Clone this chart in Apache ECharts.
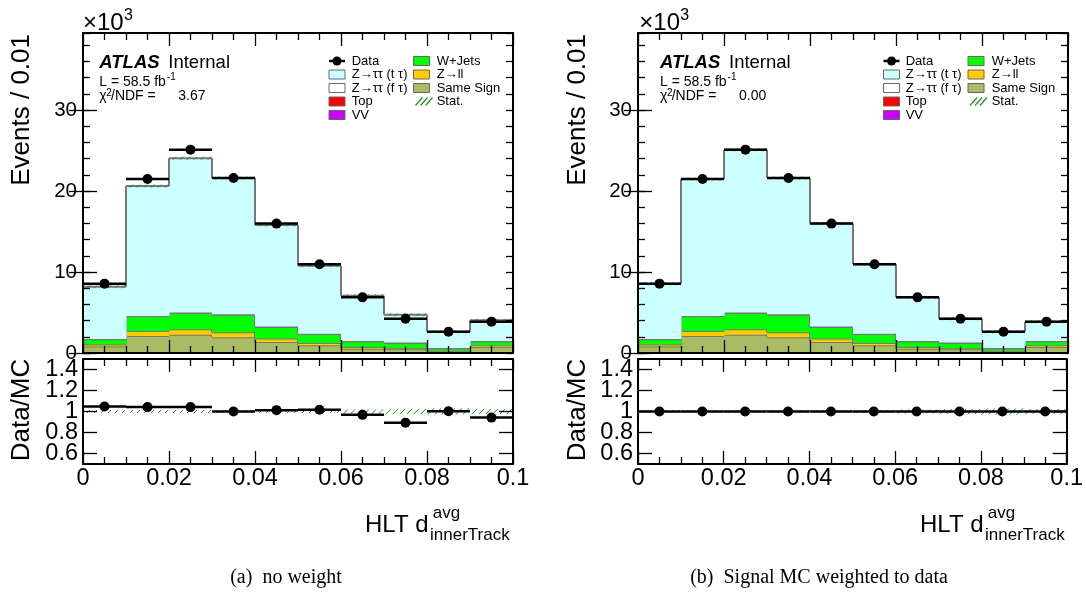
<!DOCTYPE html>
<html><head><meta charset="utf-8">
<script src="https://cdn.jsdelivr.net/npm/echarts@6/dist/echarts.min.js"></script>
<style>html,body{margin:0;padding:0;background:#fff}#c{width:1086px;height:597px}</style>
</head><body><div id="c"></div>
<script>
// ---- data (events in units of 10^3) ----
const binEdges = [0, 0.01, 0.02, 0.03, 0.04, 0.05, 0.06, 0.07, 0.08, 0.09, 0.1];
const yMainTicks = [0, 10, 20, 30];
const yRatioTicks = [0.6, 0.8, 1, 1.2, 1.4];
const dataEvents = [8.56, 21.48, 25.1, 21.6, 15.97, 10.95, 6.87, 4.22, 2.62, 3.87];
const sameSign  = [0.80, 2.11, 2.24, 1.95, 1.37, 0.95, 0.54, 0.46, 0.20, 0.75];
const zToLL     = [0.25, 0.62, 0.70, 0.62, 0.41, 0.29, 0.21, 0.12, 0.09, 0.20];
const wJets     = [0.65, 1.82, 2.03, 2.19, 1.45, 1.12, 0.70, 0.70, 0.29, 0.50];
const topQuark  = [0.02, 0.02, 0.02, 0.02, 0.02, 0.02, 0.02, 0.02, 0.02, 0.02];
const dibosonVV = [0.01, 0.01, 0.01, 0.01, 0.01, 0.01, 0.01, 0.01, 0.01, 0.01];
const zttFakeTau = [0, 0, 0, 0, 0, 0, 0, 0, 0, 0];
const zttTrueTauNoWeight = [6.44, 16.02, 19.05, 16.81, 12.54, 8.39, 5.60, 3.41, 2.01, 2.57];
const zttTrueTauWeighted = [6.83, 16.90, 20.10, 16.81, 12.71, 8.56, 5.39, 2.91, 2.01, 2.39];
const ratioNoWeight = [1.048, 1.042, 1.042, 1.000, 1.013, 1.016, 0.968, 0.894, 1.003, 0.942];
const ratioWeighted = [1, 1, 1, 1, 1, 1, 1, 1, 1, 1];
const statRelErr = [0.010, 0.008, 0.008, 0.008, 0.009, 0.010, 0.020, 0.025, 0.030, 0.025];

const FONT = 'Liberation Sans';
const chart = echarts.init(document.getElementById('c'), null, {renderer: 'canvas'});

const components = [
  {name: 'Same Sign', vals: sameSign, color: '#aabb66'},
  {name: 'Z→ll', vals: zToLL, color: '#ffcc00'},
  {name: 'W+Jets', vals: wJets, color: '#00ff00'},
  {name: 'Top', vals: topQuark, color: '#ff0000'},
  {name: 'VV', vals: dibosonVV, color: '#cc00ff'},
  {name: 'Z→ττ (f τ)', vals: zttFakeTau, color: '#ffffff'}
];

function binItems(vals) {
  return vals.map((v, i) => [binEdges[i], binEdges[i + 1], v]);
}

function hatchRender(params, api) {
  const x0 = api.value(0), x1 = api.value(1), lo = api.value(2), hi = api.value(3);
  const a = api.coord([x0, hi]), b = api.coord([x1, lo]);
  const left = a[0], right = b[0];
  let top = a[1], bot = b[1];
  if (bot - top < 3) { const m = (top + bot) / 2; top = m - 1.5; bot = m + 1.5; }
  const h = bot - top;
  const children = [];
  for (let x = left - h; x < right; x += 7) {
    const t0 = Math.max(0, (left - x) / h), t1 = Math.min(1, (right - x) / h);
    if (t0 < t1) {
      children.push({type: 'line', shape: {x1: x + t0 * h, y1: bot - t0 * h, x2: x + t1 * h, y2: bot - t1 * h},
        style: {stroke: '#1f8f1f', lineWidth: 1}});
    }
  }
  return {type: 'group', children};
}
function hbarRender(params, api) {
  const a = api.coord([api.value(0), api.value(2)]), b = api.coord([api.value(1), api.value(2)]);
  return {type: 'line', shape: {x1: a[0], y1: a[1], x2: b[0], y2: b[1]}, style: {stroke: '#000', lineWidth: 2.5}};
}

function stackSeries(xi, yi, layers) {
  const cum = [];
  const base = binEdges.slice(0, -1).map(() => 0);
  layers.forEach((L) => {
    cum.push(L.vals.map((v, i) => base[i] + v));
    L.vals.forEach((v, i) => { base[i] += v; });
  });
  const items = [];
  layers.forEach((L, li) => {
    L.vals.forEach((v, i) => {
      const b = li > 0 ? cum[li - 1][i] : 0;
      const t = cum[li][i];
      const pt = i > 0 ? cum[li][i - 1] : -1;
      items.push([binEdges[i], binEdges[i + 1], b, t, pt, li]);
    });
  });
  const colors = layers.map(L => L.color);
  return {type: 'custom', xAxisIndex: xi, yAxisIndex: yi, z: 2, clip: true,
    encode: {x: [0, 1], y: [2, 3]}, data: items,
    renderItem: function (params, api) {
      const x0 = api.value(0), x1 = api.value(1), b = api.value(2), t = api.value(3), pt = api.value(4), li = api.value(5);
      const p0 = api.coord([x0, t]), p1 = api.coord([x1, b]);
      const ch = [];
      ch.push({type: 'rect', shape: {x: p0[0], y: p0[1], width: p1[0] - p0[0] + 0.6, height: p1[1] - p0[1]},
        style: {fill: colors[li], stroke: null}});
      ch.push({type: 'line', shape: {x1: p0[0], y1: p0[1], x2: p1[0], y2: p0[1]}, style: {stroke: '#777', lineWidth: 2}});
      if (pt >= 0) {
        const q = api.coord([x0, pt]);
        ch.push({type: 'line', shape: {x1: p0[0], y1: q[1], x2: p0[0], y2: p0[1]}, style: {stroke: '#777', lineWidth: 2}});
      }
      return {type: 'group', children: ch};
    }};
}

function mainSeries(xi, yi, cyanVals) {
  const out = [];
  const layers = components.concat([{name: 'Z→ττ (t τ)', vals: cyanVals, color: '#ccffff'}]);
  out.push(stackSeries(xi, yi, layers));
  const totals = cyanVals.map((v, i) => components.reduce((s, c) => s + c.vals[i], v));
  out.push({type: 'custom', xAxisIndex: xi, yAxisIndex: yi, z: 3, renderItem: hatchRender,
    encode: {x: [0, 1], y: [2, 3]},
    data: totals.map((t, i) => [binEdges[i], binEdges[i + 1], t * (1 - statRelErr[i]), t * (1 + statRelErr[i])])});
  out.push({type: 'custom', xAxisIndex: xi, yAxisIndex: yi, z: 4, renderItem: hbarRender,
    encode: {x: [0, 1], y: 2}, data: binItems(dataEvents)});
  out.push({type: 'scatter', xAxisIndex: xi, yAxisIndex: yi, z: 5, symbol: 'circle', symbolSize: 10,
    itemStyle: {color: '#000', opacity: 1}, data: dataEvents.map((v, i) => [(binEdges[i] + binEdges[i + 1]) / 2, v])});
  return out;
}
function ratioSeries(xi, yi, ratio) {
  return [
    {type: 'custom', xAxisIndex: xi, yAxisIndex: yi, z: 3, renderItem: hatchRender,
      encode: {x: [0, 1], y: [2, 3]},
      data: statRelErr.map((e, i) => [binEdges[i], binEdges[i + 1], 1 - e, 1 + e])},
    {type: 'custom', xAxisIndex: xi, yAxisIndex: yi, z: 4, renderItem: hbarRender,
      encode: {x: [0, 1], y: 2}, data: binItems(ratio)},
    {type: 'scatter', xAxisIndex: xi, yAxisIndex: yi, z: 5, symbol: 'circle', symbolSize: 10,
      itemStyle: {color: '#000', opacity: 1}, data: ratio.map((v, i) => [(binEdges[i] + binEdges[i + 1]) / 2, v])}
  ];
}

const lineSt = {color: '#000', width: 2};
const tickSt = {color: '#000', width: 1.3};
function xAx(grid, pos, labels) {
  return {type: 'value', gridIndex: grid, position: pos, min: 0, max: 0.1, interval: 0.02, z: 10,
    axisLine: {show: true, onZero: false, lineStyle: lineSt},
    axisTick: {show: true, inside: true, length: 13, lineStyle: tickSt},
    minorTick: {show: true, splitNumber: 4, length: 7, lineStyle: tickSt},
    axisLabel: {show: labels, margin: 3, fontSize: 23.5, color: '#000', fontFamily: FONT,
      formatter: v => String(+(+v).toFixed(2))},
    splitLine: {show: false}, minorSplitLine: {show: false}};
}
function yMinor(grid, pos) {
  return {type: 'value', gridIndex: grid, position: pos, min: 0, max: 39.5, interval: 2, z: 10,
    axisLine: {show: true, onZero: false, lineStyle: lineSt},
    axisTick: {show: true, inside: true, length: 7, lineStyle: tickSt},
    axisLabel: {show: false}, splitLine: {show: false}};
}
function yMajor(grid, pos, labels) {
  return {type: 'value', gridIndex: grid, position: pos, min: 0, max: 39.5, z: 10,
    axisLine: {show: false},
    axisTick: {show: true, inside: true, length: 14, lineStyle: tickSt, customValues: yMainTicks},
    axisLabel: {show: labels, margin: 6, fontSize: 20.5, color: '#000', fontFamily: FONT, customValues: yMainTicks,
      hideOverlap: false, showMinLabel: true},
    splitLine: {show: false}};
}
// ratio axis; labelSet picks every other tick label so none are auto-hidden
function yRatio(grid, pos, labelSet, withLine) {
  const labels = labelSet ? yRatioTicks.filter((v, k) => k % 2 === labelSet - 1) : [];
  return {type: 'value', gridIndex: grid, position: pos, min: 0.5, max: 1.5, z: 10,
    axisLine: {show: withLine, onZero: false, lineStyle: lineSt},
    axisTick: {show: withLine, inside: true, length: 14, lineStyle: tickSt, customValues: yRatioTicks},
    axisLabel: {show: labels.length > 0, margin: 5, fontSize: 23.5, color: '#000', fontFamily: FONT,
      customValues: labels, hideOverlap: false, showMinLabel: true, showMaxLabel: true,
      formatter: v => String(+(+v).toFixed(1))},
    splitLine: {show: false}};
}

// ---- graphic texts ----
function txt(text, x, y, size, opts) {
  opts = opts || {};
  return {type: 'text', x: x, y: y, rotation: opts.rot || 0, z: 100,
    style: {text: text, font: (opts.style || '') + ' ' + size + 'px "' + (opts.family || FONT) + '"',
      fill: '#000', align: opts.align || 'left', verticalAlign: 'middle',
      textAlign: opts.align || 'left', textVerticalAlign: 'middle'}};
}
function box(x, y, w, h, color) {
  return {type: 'rect', z: 100, shape: {x: x, y: y, width: w, height: h},
    style: {fill: color, stroke: '#666', lineWidth: 1}};
}
function legend(bx1, tx1, bx2, tx2) {
  const rows = [61, 74.5, 88, 101.5, 115];
  const g = [];
  const bw = 16, bh = 9, fs = 13;
  g.push({type: 'line', z: 100, shape: {x1: bx1, y1: rows[0], x2: bx1 + bw, y2: rows[0]}, style: {stroke: '#000', lineWidth: 2.5}});
  g.push({type: 'circle', z: 101, shape: {cx: bx1 + bw / 2, cy: rows[0], r: 4.5}, style: {fill: '#000'}});
  g.push(txt('Data', tx1, rows[0], fs));
  const col1 = [['Z→ττ (t τ)', '#ccffff'], ['Z→ττ (f τ)', '#ffffff'], ['Top', '#ff0000'], ['VV', '#cc00ff']];
  col1.forEach((c, k) => { g.push(box(bx1, rows[k + 1] - bh / 2, bw, bh, c[1])); g.push(txt(c[0], tx1, rows[k + 1], fs)); });
  const col2 = [['W+Jets', '#00ff00'], ['Z→ll', '#ffcc00'], ['Same Sign', '#aabb66']];
  col2.forEach((c, k) => { g.push(box(bx2, rows[k] - bh / 2, bw, bh, c[1])); g.push(txt(c[0], tx2, rows[k], fs)); });
  for (let k = 0; k < 3; k++) {
    const x = bx2 + 2 + k * 5;
    g.push({type: 'line', z: 100, shape: {x1: x, y1: rows[3] + 4, x2: x + 7, y2: rows[3] - 4}, style: {stroke: '#1f8f1f', lineWidth: 1.2}});
  }
  g.push(txt('Stat.', tx2, rows[3], fs));
  return g;
}
function panelTexts(o) {
  const g = [];
  g.push(txt('×10', o.x10, 22.9, 24));
  g.push(txt('3', o.x10 + 41, 15.7, 16));
  g.push(txt('ATLAS', o.atl, 63.4, 18.5, {style: 'italic bold'}));
  g.push(txt('Internal', o.atl + 69, 63.4, 18.5));
  g.push(txt('L = 58.5 fb', o.atl, 81.7, 14));
  g.push(txt('-1', o.atl + 67.6, 77.4, 10));
  g.push(txt('χ', o.atl, 96, 14));
  g.push(txt('2', o.atl + 7, 93, 10));
  g.push(txt('/NDF =', o.atl + 11.7, 96, 14));
  g.push(txt(o.chi, o.atl + 79, 96, 14));
  g.push(txt('Events / 0.01', o.ytx, 34, 26, {rot: Math.PI / 2, align: 'right'}));
  g.push(txt('Data/MC', o.ytx, 410, 26, {rot: Math.PI / 2, align: 'center'}));
  g.push(txt('HLT d', o.xt, 525.4, 24));
  g.push(txt('avg', o.xt + 67.7, 513.2, 17));
  g.push(txt('innerTrack', o.xt + 65, 535.6, 17));
  g.push(txt(o.cap, o.capx, 578, 20, {family: 'Liberation Serif', align: 'center'}));
  return g;
}

const graphics = []
  .concat(panelTexts({x10: 83, atl: 99.3, chi: '3.67', ytx: 22, xt: 365, cap: '(a)  no weight', capx: 286}))
  .concat(panelTexts({x10: 639.3, atl: 660, chi: '0.00', ytx: 578, xt: 920, cap: '(b)  Signal MC weighted to data', capx: 819}))
  .concat(legend(329, 351.7, 413.5, 436.7))
  .concat(legend(883.5, 905.7, 968, 991.7));

const option = {
  animation: false,
  backgroundColor: '#fff',
  grid: [
    {left: 83, top: 33, width: 430, height: 320},
    {left: 83, top: 359, width: 430, height: 105},
    {left: 638, top: 33, width: 430, height: 320},
    {left: 638, top: 359, width: 430, height: 105}
  ],
  xAxis: [
    xAx(0, 'bottom', false), xAx(0, 'top', false),
    xAx(1, 'bottom', true), xAx(1, 'top', false),
    xAx(2, 'bottom', false), xAx(2, 'top', false),
    xAx(3, 'bottom', true), xAx(3, 'top', false)
  ],
  yAxis: [
    yMinor(0, 'left'), yMajor(0, 'left', true), yMinor(0, 'right'), yMajor(0, 'right', false),
    yRatio(1, 'left', 1, true), yRatio(1, 'left', 2, false), yRatio(1, 'right', 0, true),
    yMinor(2, 'left'), yMajor(2, 'left', true), yMinor(2, 'right'), yMajor(2, 'right', false),
    yRatio(3, 'left', 1, true), yRatio(3, 'left', 2, false), yRatio(3, 'right', 0, true)
  ],
  series: []
    .concat(mainSeries(0, 0, zttTrueTauNoWeight))
    .concat(ratioSeries(2, 4, ratioNoWeight))
    .concat(mainSeries(4, 7, zttTrueTauWeighted))
    .concat(ratioSeries(6, 11, ratioWeighted)),
  graphic: graphics
};
chart.setOption(option);
</script>
</body></html>
